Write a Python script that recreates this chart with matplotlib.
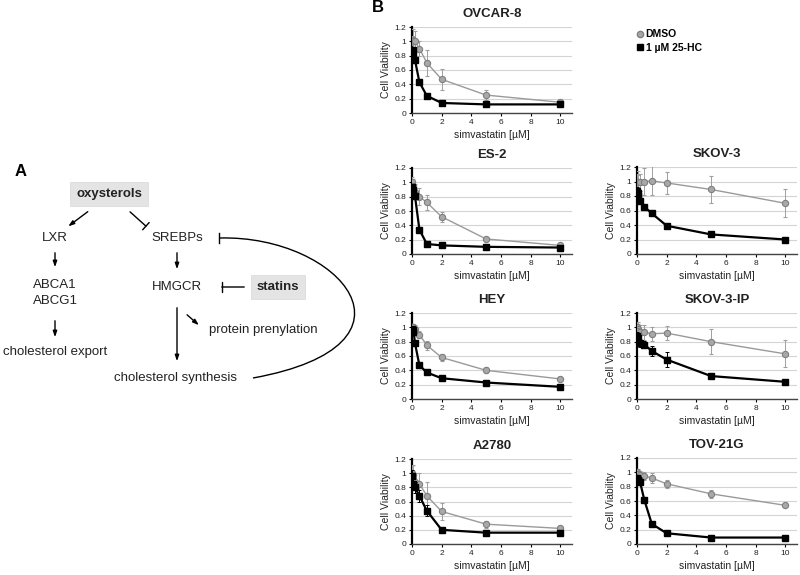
import numpy as np
import matplotlib
matplotlib.use('Agg')
import matplotlib.pyplot as plt
from matplotlib.path import Path
from matplotlib.patches import PathPatch
from matplotlib.lines import Line2D
from matplotlib.ticker import FuncFormatter

plt.rcParams['font.family'] = ['Liberation Sans', 'DejaVu Sans']

# simvastatin doses (uM)
dose = [0, 0.05, 0.1, 0.2, 0.5, 1, 2, 5, 10]

cell_lines = ['OVCAR-8', 'ES-2', 'SKOV-3', 'HEY', 'SKOV-3-IP', 'A2780', 'TOV-21G']

dmso = {
    'OVCAR-8':   [1.00, 1.02, 1.00, 1.00, 0.90, 0.70, 0.47, 0.25, 0.15],
    'ES-2':      [1.00, 0.95, 0.92, 0.87, 0.80, 0.72, 0.52, 0.21, 0.12],
    'SKOV-3':    [1.00, 1.00, 0.99, 0.99, 1.00, 1.01, 0.98, 0.89, 0.70],
    'HEY':       [1.00, 0.97, 1.00, 0.97, 0.90, 0.75, 0.58, 0.40, 0.28],
    'SKOV-3-IP': [1.00, 0.98, 0.95, 0.93, 0.93, 0.91, 0.92, 0.80, 0.63],
    'A2780':     [1.00, 0.97, 0.92, 0.88, 0.85, 0.68, 0.46, 0.28, 0.22],
    'TOV-21G':   [1.00, 0.98, 0.97, 0.96, 0.95, 0.92, 0.84, 0.70, 0.54],
}
dmso_err = {
    'OVCAR-8':   [0.05, 0.15, 0.08, 0.15, 0.10, 0.18, 0.15, 0.07, 0.03],
    'ES-2':      [0.08, 0.10, 0.08, 0.10, 0.12, 0.10, 0.07, 0.02, 0.02],
    'SKOV-3':    [0.10, 0.15, 0.10, 0.12, 0.18, 0.20, 0.15, 0.19, 0.19],
    'HEY':       [0.05, 0.08, 0.05, 0.06, 0.05, 0.06, 0.05, 0.04, 0.03],
    'SKOV-3-IP': [0.08, 0.10, 0.10, 0.10, 0.10, 0.10, 0.10, 0.17, 0.19],
    'A2780':     [0.10, 0.15, 0.10, 0.12, 0.15, 0.19, 0.12, 0.05, 0.03],
    'TOV-21G':   [0.05, 0.06, 0.05, 0.06, 0.06, 0.07, 0.06, 0.06, 0.03],
}
hc25 = {
    'OVCAR-8':   [0.87, 0.88, 0.80, 0.74, 0.43, 0.24, 0.14, 0.12, 0.12],
    'ES-2':      [0.93, 0.90, 0.82, 0.81, 0.34, 0.14, 0.12, 0.10, 0.09],
    'SKOV-3':    [0.87, 0.84, 0.80, 0.73, 0.65, 0.56, 0.39, 0.27, 0.20],
    'HEY':       [0.98, 0.93, 0.96, 0.78, 0.47, 0.37, 0.29, 0.23, 0.17],
    'SKOV-3-IP': [0.88, 0.85, 0.80, 0.78, 0.76, 0.67, 0.55, 0.32, 0.24],
    'A2780':     [0.96, 0.84, 0.85, 0.80, 0.68, 0.47, 0.20, 0.16, 0.16],
    'TOV-21G':   [0.92, 0.90, 0.89, 0.87, 0.61, 0.28, 0.15, 0.09, 0.09],
}
hc25_err = {
    'OVCAR-8':   [0.05, 0.04, 0.04, 0.03, 0.03, 0.02, 0.02, 0.02, 0.02],
    'ES-2':      [0.04, 0.04, 0.04, 0.03, 0.02, 0.02, 0.02, 0.01, 0.01],
    'SKOV-3':    [0.05, 0.05, 0.05, 0.04, 0.04, 0.03, 0.02, 0.02, 0.02],
    'HEY':       [0.04, 0.04, 0.04, 0.03, 0.03, 0.02, 0.02, 0.02, 0.02],
    'SKOV-3-IP': [0.05, 0.05, 0.06, 0.05, 0.05, 0.07, 0.10, 0.03, 0.02],
    'A2780':     [0.08, 0.08, 0.08, 0.08, 0.08, 0.08, 0.03, 0.02, 0.02],
    'TOV-21G':   [0.04, 0.04, 0.04, 0.03, 0.03, 0.03, 0.02, 0.01, 0.01],
}

# axes positions in pixels: left x, top y of 1.2 line, bottom y of 0 line
W, H = 800, 575
pos = {
    'OVCAR-8':   (412, 27, 113),
    'ES-2':      (412, 168, 254),
    'SKOV-3':    (637, 167, 254),
    'HEY':       (412, 313, 399),
    'SKOV-3-IP': (637, 313, 399),
    'A2780':     (412, 459, 544),
    'TOV-21G':   (637, 458, 544),
}

fig = plt.figure(figsize=(W / 100, H / 100), dpi=100)

# ---- panel A: pathway diagram drawn in pixel coords ----
ax0 = fig.add_axes([0, 0, 1, 1])
ax0.set_xlim(0, W)
ax0.set_ylim(H, 0)
ax0.axis('off')

fs = 9.5
txt = '#222222'
ax0.text(15, 172, 'A', fontsize=12, fontweight='bold', ha='left', va='center')
ax0.text(372, 8, 'B', fontsize=12, fontweight='bold', ha='left', va='center')

for label, cx, cy in [('oxysterols', 109, 194), ('statins', 278, 287)]:
    ax0.text(cx, cy, label, fontsize=fs, fontweight='bold', ha='center', va='center',
             color=txt,
             bbox=dict(boxstyle='square,pad=0.45', fc='#e4e4e4', ec='#d8d8d8', lw=0.5))

nodes = [('LXR', 55, 238), ('SREBPs', 177, 238), ('ABCA1', 55, 285), ('ABCG1', 55, 301),
         ('HMGCR', 177, 287), ('cholesterol export', 55, 352),
         ('protein prenylation', 263, 330), ('cholesterol synthesis', 175, 378)]
for label, cx, cy in nodes:
    ax0.text(cx, cy, label, fontsize=fs, ha='center', va='center', color=txt)

def arrow(x1, y1, x2, y2):
    ax0.annotate('', xy=(x2, y2), xytext=(x1, y1),
                 arrowprops=dict(arrowstyle='-|>,head_length=0.35,head_width=0.12',
                                 color='black', lw=1))

def block(x1, y1, x2, y2):
    ax0.annotate('', xy=(x2, y2), xytext=(x1, y1),
                 arrowprops=dict(arrowstyle='-[,widthB=0.35,lengthB=0', color='black', lw=1))

arrow(90, 210, 66, 228)
block(128, 210, 148, 228)
arrow(55, 250, 55, 270)
arrow(177, 250, 177, 272)
block(247, 287, 219, 287)
arrow(55, 318, 55, 340)
arrow(177, 305, 177, 364)
arrow(185, 313, 201, 327)

# feedback curve from cholesterol synthesis back to SREBPs
verts = [(253, 378), (435, 345), (340, 235), (220, 238)]
codes = [Path.MOVETO, Path.CURVE4, Path.CURVE4, Path.CURVE4]
ax0.add_patch(PathPatch(Path(verts, codes), fc='none', ec='black', lw=1))
ax0.plot([219, 219], [233, 243], color='black', lw=1)

# ---- panel B: dose response curves ----
gray_face = '#a8a8a8'
gray_edge = '#7f7f7f'
gray_line = '#9a9a9a'

for name in cell_lines:
    x0, ytop, ybot = pos[name]
    ax = fig.add_axes([x0 / W, 1 - ybot / H, 160 / W, (ybot - ytop) / H])
    ax.errorbar(dose, dmso[name], yerr=dmso_err[name], color=gray_line, lw=1,
                marker='o', ms=4.5, mfc=gray_face, mec=gray_edge, mew=0.8,
                ecolor='#a0a0a0', elinewidth=0.7, capsize=1.5, capthick=0.7, zorder=3)
    ax.errorbar(dose, hc25[name], yerr=hc25_err[name], color='black', lw=1.6,
                marker='s', ms=4.8, mfc='black', mec='black',
                ecolor='black', elinewidth=0.7, capsize=1.5, capthick=0.7, zorder=4)
    ax.set_xlim(0, 10.8)
    ax.set_ylim(0, 1.2)
    ax.set_xticks([0, 2, 4, 6, 8, 10])
    ax.set_yticks([0, 0.2, 0.4, 0.6, 0.8, 1, 1.2])
    ax.yaxis.set_major_formatter(FuncFormatter(lambda v, p: '%g' % round(v, 1)))
    ax.grid(axis='y', color='#d4d4d4', lw=0.8)
    ax.set_axisbelow(True)
    for s in ['top', 'right']:
        ax.spines[s].set_visible(False)
    ax.spines['left'].set_linewidth(1.6)
    ax.spines['bottom'].set_linewidth(1.0)
    ax.spines['bottom'].set_color('#444444')
    ax.tick_params(labelsize=6, length=2, width=0.8, pad=2, labelcolor=txt)
    ax.set_title(name, fontsize=9.5, fontweight='bold', pad=7, color=txt)
    ax.set_ylabel('Cell Viability', fontsize=7.5, labelpad=3, color=txt)
    ax.set_xlabel('simvastatin [µM]', fontsize=7.5, labelpad=3, color=txt)
    ax.patch.set_alpha(0)

handles = [Line2D([], [], ls='none', marker='o', ms=4.5, mfc=gray_face, mec=gray_edge),
           Line2D([], [], ls='none', marker='s', ms=4.5, mfc='black', mec='black')]
fig.legend(handles, ['DMSO', '1 µM 25-HC'], loc='upper left',
           bbox_to_anchor=(632 / W, 1 - 24 / H), frameon=False,
           handlelength=0.6, handletextpad=0.2, labelspacing=0.35, borderpad=0,
           prop={'weight': 'bold', 'size': 7.5})

fig.savefig('out.png', dpi=100)
